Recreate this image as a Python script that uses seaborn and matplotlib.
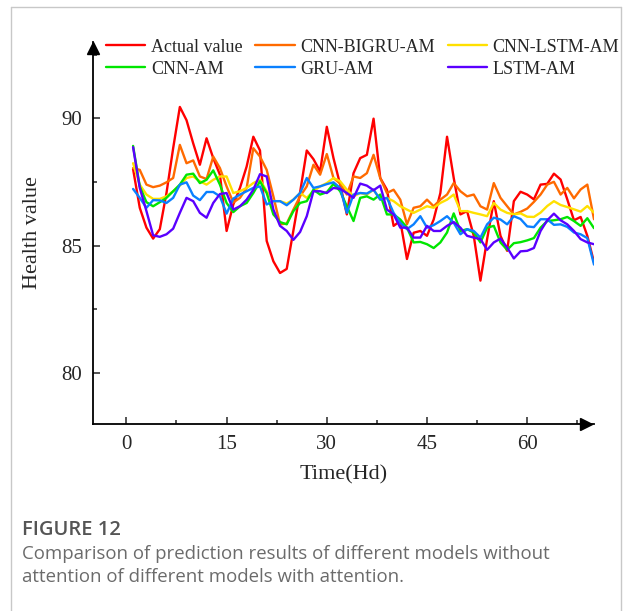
import matplotlib
matplotlib.use("Agg")
import matplotlib.pyplot as plt
import seaborn as sns
import numpy as np
import pandas as pd
from matplotlib.lines import Line2D
from matplotlib.ticker import MultipleLocator

# 时间轴 1..70
time_hd = list(range(1, 71))

actual_value = [88.01, 86.49, 85.71, 85.28, 85.65, 87.07, 88.83, 90.45, 89.93, 89.02,
                88.18, 89.22, 88.44, 87.79, 85.58, 86.62, 87.27, 88.11, 89.28, 88.74,
                85.19, 84.39, 83.93, 84.09, 85.60, 87.10, 88.74, 88.40, 87.92, 89.67,
                88.44, 87.40, 86.23, 87.85, 88.44, 88.57, 89.99, 87.66, 87.20, 85.78,
                85.97, 84.48, 85.51, 85.58, 85.39, 86.03, 87.07, 89.28, 87.66, 86.23,
                86.36, 85.39, 83.63, 85.26, 86.75, 85.39, 84.80, 86.75, 87.12, 87.01,
                86.82, 87.40, 87.43, 87.83, 87.60, 86.82, 86.00, 86.13, 85.39, 84.35]

cnn_bigru_am = [88.05, 87.98, 87.40, 87.30, 87.36, 87.49, 87.66, 88.96, 88.24, 88.35,
                87.72, 87.62, 88.50, 88.05, 87.33, 86.70, 86.88, 87.27, 88.83, 88.50,
                87.98, 86.94, 85.84, 85.87, 86.42, 86.94, 87.33, 88.18, 87.79, 88.60,
                87.66, 87.44, 87.01, 87.72, 87.66, 87.85, 88.57, 87.66, 87.07, 87.20,
                86.81, 85.84, 86.49, 86.55, 86.81, 86.55, 86.81, 87.01, 87.46, 87.14,
                86.94, 87.01, 86.55, 86.42, 87.46, 86.88, 86.55, 86.23, 86.33, 86.46,
                86.72, 87.01, 87.40, 87.51, 87.01, 87.27, 86.86, 87.21, 87.40, 86.04]

cnn_lstm_am = [88.24, 87.40, 87.01, 86.84, 86.84, 86.94, 87.14, 87.36, 87.66, 87.72,
               87.53, 87.40, 87.59, 87.72, 87.72, 87.07, 87.14, 87.27, 87.46, 87.59,
               87.14, 86.75, 86.75, 86.66, 86.81, 87.07, 86.88, 87.14, 87.33, 87.46,
               87.66, 87.53, 87.20, 86.94, 87.07, 87.01, 87.20, 86.81, 86.88, 86.75,
               86.55, 86.42, 86.29, 86.42, 86.55, 86.49, 86.68, 86.81, 87.01, 86.36,
               86.36, 86.29, 86.23, 86.16, 86.68, 86.42, 86.29, 86.23, 86.27, 86.14,
               86.13, 86.30, 86.56, 86.75, 86.60, 86.52, 86.43, 86.34, 86.56, 86.30]

cnn_am = [88.92, 87.33, 86.71, 86.55, 86.71, 86.88, 87.14, 87.40, 87.79, 87.83,
          87.46, 87.59, 87.96, 87.40, 86.68, 86.32, 86.55, 86.68, 87.07, 87.53,
          87.07, 86.23, 85.93, 85.84, 86.36, 86.68, 86.75, 87.20, 87.01, 87.10,
          87.43, 87.14, 86.55, 85.97, 86.88, 86.94, 86.81, 87.01, 86.23, 86.23,
          86.03, 85.71, 85.13, 85.15, 85.06, 84.91, 85.13, 85.52, 86.27, 85.58,
          85.65, 85.52, 85.13, 85.71, 85.78, 85.13, 84.84, 85.10, 85.14, 85.21,
          85.30, 85.71, 85.97, 86.00, 86.04, 86.13, 85.97, 85.78, 86.08, 85.69]

gru_am = [87.23, 86.88, 86.49, 86.79, 86.78, 86.68, 86.88, 87.40, 87.49, 86.97,
          86.79, 87.11, 87.11, 86.94, 86.26, 86.85, 87.01, 87.14, 87.27, 87.33,
          86.62, 86.75, 86.75, 86.59, 86.81, 87.07, 87.66, 87.27, 87.33, 87.42,
          87.49, 87.27, 86.29, 87.01, 87.07, 87.05, 87.20, 86.81, 86.88, 86.29,
          85.90, 85.65, 85.84, 86.16, 85.71, 85.81, 85.97, 86.16, 85.90, 85.45,
          85.65, 85.58, 85.32, 85.84, 86.10, 86.03, 85.84, 86.16, 86.05, 85.76,
          85.73, 86.04, 86.04, 85.82, 85.84, 85.74, 85.52, 85.45, 85.30, 84.26]

lstm_am = [88.87, 87.27, 86.36, 85.41, 85.35, 85.45, 85.67, 86.29, 86.88, 86.75,
           86.29, 86.10, 86.68, 87.03, 87.07, 86.42, 86.55, 86.81, 87.20, 87.81,
           87.72, 86.42, 85.78, 85.58, 85.23, 85.54, 86.16, 87.14, 87.14, 87.07,
           87.27, 87.23, 87.07, 86.88, 87.44, 87.36, 87.18, 87.36, 86.42, 86.23,
           85.71, 85.71, 85.32, 85.32, 85.78, 85.58, 85.58, 85.78, 85.93, 85.71,
           85.39, 85.32, 85.26, 84.84, 85.13, 85.28, 84.93, 84.50, 84.78, 84.80,
           84.91, 85.58, 86.00, 86.26, 86.00, 85.84, 85.58, 85.26, 85.13, 85.06]

model_names = ["Actual value", "CNN-BIGRU-AM", "CNN-LSTM-AM", "CNN-AM", "GRU-AM", "LSTM-AM"]
series = [actual_value, cnn_bigru_am, cnn_lstm_am, cnn_am, gru_am, lstm_am]
line_colors = ["#FF0000", "#FF6A00", "#FFE000", "#00E600", "#0A80FF", "#5A00FF"]

df = pd.DataFrame({
    "Time": np.tile(time_hd, len(series)),
    "Health": np.concatenate(series),
    "Model": np.repeat(model_names, len(time_hd)),
})

sns.set_style("ticks")
plt.rcParams["font.family"] = ["Liberation Serif", "DejaVu Serif"]

fig = plt.figure(figsize=(6.25, 6.11), dpi=100)
ax = fig.add_axes([93 / 625, (611 - 424) / 611, (594 - 93) / 625, (424 - 42) / 611])

sns.lineplot(data=df, x="Time", y="Health", hue="Model", hue_order=model_names,
             palette=dict(zip(model_names, line_colors)), linewidth=1.7,
             ax=ax, legend=False)

ax.set_xlim(-5, 70)
ax.set_ylim(78, 93)
ax.xaxis.set_major_locator(MultipleLocator(15))
ax.xaxis.set_minor_locator(MultipleLocator(7.5))
ax.yaxis.set_major_locator(MultipleLocator(5))
ax.yaxis.set_minor_locator(MultipleLocator(2.5))
ax.tick_params(which="both", direction="in", width=1.1, labelsize=15, pad=8)
ax.tick_params(which="major", length=5)
ax.tick_params(which="minor", length=3)
ax.set_yticks([80, 85, 90])
ax.set_xlabel("Time(Hd)", fontsize=16, labelpad=8)
ax.set_ylabel("Health value", fontsize=16, labelpad=14)

sns.despine(ax=ax)
for s in ["left", "bottom"]:
    ax.spines[s].set_linewidth(1.3)
    ax.spines[s].set_color("black")

# 坐标轴箭头
ax.plot(0.985, 0, ">k", markersize=8, transform=ax.transAxes, clip_on=False)
ax.plot(0, 0.985, "^k", markersize=8, transform=ax.transAxes, clip_on=False)

# 图例按行排列
lines = ax.get_lines()[:6]
order = [0, 3, 1, 4, 2, 5]
fig.legend([lines[i] for i in order], [model_names[i] for i in order],
           loc="center", bbox_to_anchor=(0.58, 0.905), ncol=3, frameon=False,
           fontsize=13, handlelength=2.2, handletextpad=0.3,
           columnspacing=0.7, labelspacing=0.28)

# 外框
frame_kw = dict(transform=fig.transFigure, color="#c8c8c8", linewidth=1.0)
fig.add_artist(Line2D([11 / 625, 11 / 625], [0, 1 - 7 / 611], **frame_kw))
fig.add_artist(Line2D([11 / 625, 621 / 625], [1 - 7 / 611, 1 - 7 / 611], **frame_kw))
fig.add_artist(Line2D([621 / 625, 621 / 625], [0, 1 - 7 / 611], **frame_kw))

# 图注
fig.text(22 / 625, 1 - 520 / 611, "FIGURE 12", family=["Open Sans", "DejaVu Sans"],
         fontsize=14.5, color="#555555", va="top", fontweight="semibold")
fig.text(22 / 625, 1 - 545 / 611,
         "Comparison of prediction results of different models without\n"
         "attention of different models with attention.",
         family=["Open Sans", "DejaVu Sans"], fontsize=13.4, color="#6b6b6b",
         va="top", linespacing=1.33)

fig.savefig("out.png", dpi=100)
